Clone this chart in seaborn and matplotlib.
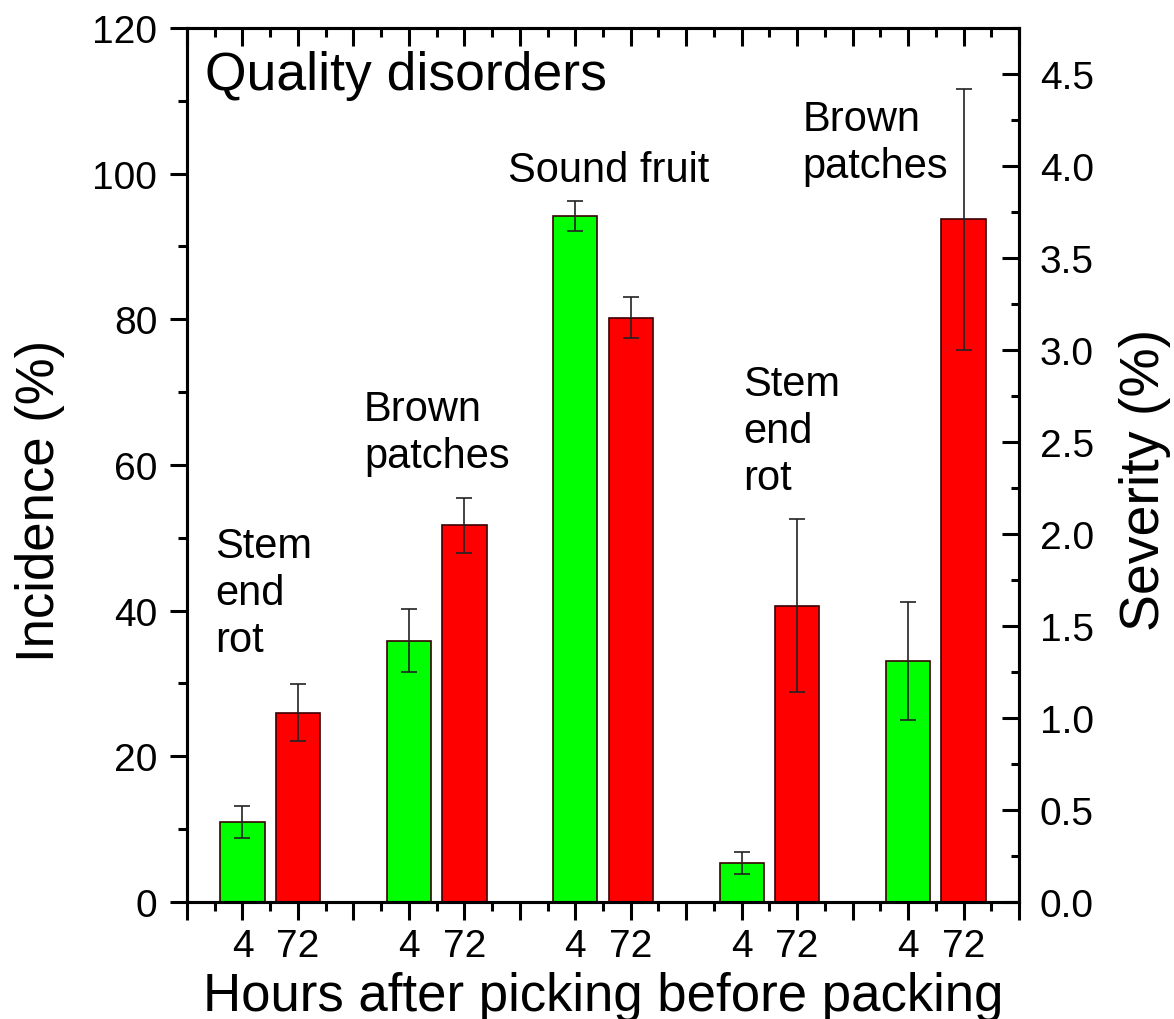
import numpy as np
import pandas as pd
import matplotlib
matplotlib.use("Agg")
import matplotlib.pyplot as plt
import seaborn as sns
from matplotlib.ticker import MultipleLocator, FormatStrFormatter

# ── DATA ──────────────────────────────────────────────────────────────────────
HOURS = ["4", "72"]

# incidence (%) - left axis
INC_GROUPS  = ["Stem\nend\nrot", "Brown\npatches", "Sound fruit"]
INC_4H      = [11.0, 35.9, 94.2]
INC_4H_ERR  = [2.2, 4.3, 2.1]
INC_72H     = [26.0, 51.7, 80.2]
INC_72H_ERR = [3.9, 3.8, 2.8]

# severity (%) - right axis
SEV_GROUPS  = ["Stem\nend\nrot", "Brown\npatches"]
SEV_4H      = [0.21, 1.31]
SEV_4H_ERR  = [0.06, 0.32]
SEV_72H     = [1.61, 3.71]
SEV_72H_ERR = [0.47, 0.71]

GREEN, RED = "#00ff00", "#ff0000"
FONT = ["Liberation Sans", "DejaVu Sans"]


def make_frame(groups, v4, e4, v72, e72, start):
    rows = []
    for i, _ in enumerate(groups):
        base = start + 3 * i
        rows.append((base + 1, v4[i], e4[i], HOURS[0]))
        rows.append((base + 2, v72[i], e72[i], HOURS[1]))
    return pd.DataFrame(rows, columns=["pos", "value", "err", "hours"])


inc_df = make_frame(INC_GROUPS, INC_4H, INC_4H_ERR, INC_72H, INC_72H_ERR, 0)
sev_df = make_frame(SEV_GROUPS, SEV_4H, SEV_4H_ERR, SEV_72H, SEV_72H_ERR, 9)

# ── PLOT ──────────────────────────────────────────────────────────────────────
sns.set_style("ticks")
plt.rcParams["font.family"] = FONT
for k in ["text.color", "axes.labelcolor", "xtick.color", "ytick.color"]:
    plt.rcParams[k] = "black"

fig = plt.figure(figsize=(11.74, 10.20), dpi=100)
ax = fig.add_axes([0.1593, 0.1147, 0.7087, 0.8569])
ax2 = ax.twinx()

pal = {HOURS[0]: GREEN, HOURS[1]: RED}
for a, df in [(ax, inc_df), (ax2, sev_df)]:
    sns.barplot(data=df, x="pos", y="value", hue="hours", palette=pal,
                native_scale=True, dodge=False, width=0.8, legend=False,
                edgecolor="#3a0000", linewidth=1.2, saturation=1, ax=a)
    a.errorbar(df["pos"], df["value"], yerr=df["err"], fmt="none",
               ecolor="#222222", elinewidth=1.2, capsize=6, capthick=1.2)

ax.set_xlim(0, 15)
ax.set_ylim(0, 120)
ax2.set_ylim(0, 4.75)

# x ticks: every unit, labels only under bars
all_pos = list(inc_df["pos"]) + list(sev_df["pos"])
all_hours = list(inc_df["hours"]) + list(sev_df["hours"])
lab = {p: h for p, h in zip(all_pos, all_hours)}
ax.set_xticks(np.arange(0, 16))
ax.set_xticklabels([lab.get(p, "") for p in range(16)])
ax.xaxis.set_minor_locator(MultipleLocator(0.5))
ax.yaxis.set_major_locator(MultipleLocator(20))
ax.yaxis.set_minor_locator(MultipleLocator(10))
ax2.yaxis.set_major_locator(MultipleLocator(0.5))
ax2.yaxis.set_minor_locator(MultipleLocator(0.25))
ax2.yaxis.set_major_formatter(FormatStrFormatter("%.1f"))

ax.tick_params(axis="x", which="both", direction="out", top=True,
               labelsize=28, width=2.2, pad=6)
ax.tick_params(axis="x", which="major", length=13)
ax.tick_params(axis="x", which="minor", length=6.5)
ax.tick_params(axis="y", which="both", direction="out", right=False,
               labelsize=28, width=2.2, pad=9)
ax.tick_params(axis="y", which="major", length=12.5)
ax.tick_params(axis="y", which="minor", length=6.5)
ax2.tick_params(axis="y", which="both", direction="in", labelsize=28,
                width=2.2, pad=15)
ax2.tick_params(axis="y", which="major", length=12)
ax2.tick_params(axis="y", which="minor", length=6)

# top ticks point inward
for t in ax.xaxis.get_major_ticks() + ax.xaxis.get_minor_ticks():
    t.tick2line.set_marker(matplotlib.lines.TICKDOWN)

for a in (ax, ax2):
    for s in a.spines.values():
        s.set_linewidth(2.2)
        s.set_color("black")

ax.set_xlabel("Hours after picking before packing", fontsize=38, labelpad=5)
ax.set_ylabel("Incidence (%)", fontsize=38)
ax.yaxis.set_label_coords(-0.147, 0.46)
ax2.set_ylabel("Severity (%)", fontsize=40)
ax2.yaxis.set_label_coords(1.12, 0.484)

# annotations
ax.text(0.32, 117.0, "Quality disorders", fontsize=38.5, va="top", ha="left")
txt_kw = dict(fontsize=30, va="top", ha="left", linespacing=1.22)
ax.text(0.5, 51.6, INC_GROUPS[0], **txt_kw)
ax.text(3.19, 70.4, INC_GROUPS[1], **txt_kw)
ax.text(5.79, 103.3, INC_GROUPS[2], **txt_kw)
ax.text(10.02, 73.8, SEV_GROUPS[0], **txt_kw)
ax.text(11.1, 110.2, SEV_GROUPS[1], **txt_kw)

fig.savefig("out.png", dpi=100)
